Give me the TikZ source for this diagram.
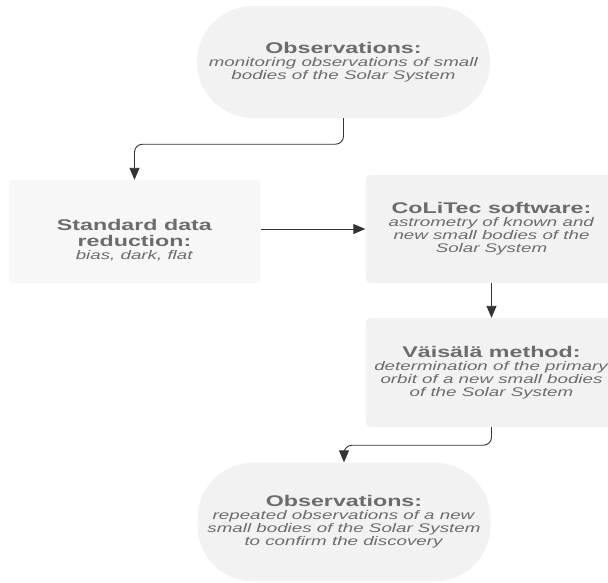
\documentclass[tikz,border=0pt]{standalone}
\usepackage{fontspec}
\setmainfont{Liberation Sans}[FakeStretch=1.5]
\usetikzlibrary{arrows.meta,positioning}
\definecolor{boxfill}{HTML}{F2F2F2}
\definecolor{boxfilllight}{HTML}{F7F7F7}
\definecolor{boxtext}{HTML}{6C6C6C}
\definecolor{linecol}{HTML}{333333}
\newcommand{\boxtitle}[1]{\textbf{\fontsize{15.5}{16}\selectfont #1}}
\tikzset{x=1pt, y=-1pt,
  pill/.style={fill=boxfill, rounded corners=56pt, minimum width=293pt,
    inner sep=0pt, align=center, text=boxtext, font=\fontsize{12.5}{13}\selectfont},
  card/.style={fill=boxfill, rounded corners=5pt, minimum width=252pt,
    inner sep=0pt, align=center, text=boxtext, font=\fontsize{12.5}{13}\selectfont},
  flow/.style={draw=linecol, line width=0.9pt, rounded corners=8pt,
    -{Triangle[length=12pt,width=10pt]}}}

\begin{document}
\begin{tikzpicture}
  \useasboundingbox (0,0) rectangle (608,582);
  \node[pill, minimum height=112pt] (1) at (343.5,62)
    {\boxtitle{Observations:}\\ \textit{monitoring observations of small}\\
     \textit{bodies of the Solar System}};
  \node[card, fill=boxfilllight, minimum height=103pt] (2) at (134.5,231.5)
    {\rule{0pt}{28pt}\boxtitle{Standard data}\\[3pt] \boxtitle{reduction:}\\ \textit{bias, dark, flat}};
  \node[card, minimum height=108pt] (3) at (491.5,229)
    {\boxtitle{CoLiTec software:}\\ \textit{astrometry of known and}\\
     \textit{new small bodies of the}\\ \textit{Solar System}};
  \node[card, minimum height=109pt] (4) at (491.5,372.5)
    {\boxtitle{Väisälä method:}\\ \textit{determination of the primary}\\
     \textit{orbit of a new small bodies}\\ \textit{of the Solar System}};
  \node[pill, minimum height=119pt] (5) at (344,522)
    {\boxtitle{Observations:}\\ \textit{repeated observations of a new}\\
     \textit{small bodies of the Solar System}\\ \textit{to confirm the discovery}};
  \draw[flow] (1.south) -- ++(0,26) -| (2.north);
  \draw[flow] (2.east |- 3.west) -- (3.west);
  \draw[flow] (3.south) -- (4.north);
  \draw[flow] (4.south) -- ++(0,18) -| (5.north);
\end{tikzpicture}
\end{document}
